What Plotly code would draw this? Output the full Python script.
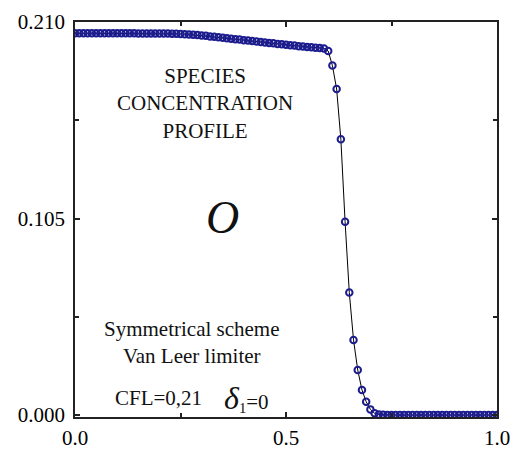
import plotly.graph_objects as go

# Grid positions (cell centres) and species concentration values
x_pos = [i / 100 for i in range(101)]
conc = [
    0.2040, 0.2040, 0.2040, 0.2040, 0.2040, 0.2040, 0.2040, 0.2040, 0.2040, 0.2040,
    0.2040, 0.2040, 0.2040, 0.2040, 0.2040, 0.2039, 0.2039, 0.2039, 0.2039, 0.2039,
    0.2038, 0.2038, 0.2038, 0.2037, 0.2037, 0.2036, 0.2035, 0.2033, 0.2032, 0.2030,
    0.2028, 0.2026, 0.2023, 0.2021, 0.2018, 0.2016, 0.2013, 0.2011, 0.2008, 0.2006,
    0.2003, 0.2001, 0.1998, 0.1996, 0.1993, 0.1991, 0.1988, 0.1986, 0.1983, 0.1981,
    0.1979, 0.1976, 0.1974, 0.1971, 0.1969, 0.1967, 0.1965, 0.1963, 0.1961, 0.1959,
    0.1945, 0.1867, 0.1742, 0.1473, 0.1033, 0.0654, 0.0401, 0.0240, 0.0134, 0.0071,
    0.0030, 0.0009, 0.0003, 0.0001, 0.0, 0.0, 0.0, 0.0, 0.0, 0.0,
    0.0, 0.0, 0.0, 0.0, 0.0, 0.0, 0.0, 0.0, 0.0, 0.0,
    0.0, 0.0, 0.0, 0.0, 0.0, 0.0, 0.0, 0.0, 0.0, 0.0,
    0.0,
]
x_ticks = [0.0, 0.5, 1.0]
x_tick_labels = ["0.0", "0.5", "1.0"]
y_ticks = [0.0, 0.105, 0.210]
y_tick_labels = ["0.000", "0.105", "0.210"]

SERIF = "Liberation Serif, Times New Roman, serif"
BLUE = "#1c1c8f"

fig = go.Figure()
fig.add_trace(go.Scatter(
    x=x_pos, y=conc, mode="lines+markers",
    line=dict(color="black", width=1),
    marker=dict(symbol="circle-open", size=6.5, color=BLUE, line=dict(width=2, color=BLUE)),
    showlegend=False,
))

axis_common = dict(
    showgrid=False, zeroline=False, showline=True, linecolor="#222222", linewidth=1.8,
    mirror="allticks", ticks="inside", ticklen=5, tickwidth=1.5, tickcolor="#222222",
    tickfont=dict(family=SERIF, size=21, color="black"), automargin=False,
)
fig.update_xaxes(range=[0, 1], tickvals=x_ticks, ticktext=x_tick_labels,
                 minor=dict(tickvals=[0.25, 0.75], ticks="inside", ticklen=4, tickcolor="#222222"),
                 ticklabelstandoff=1, **axis_common)
fig.update_yaxes(range=[-0.00107, 0.210], tickvals=y_ticks, ticktext=y_tick_labels,
                 minor=dict(tickvals=[0.0525, 0.1575], ticks="inside", ticklen=4, tickcolor="#222222"),
                 ticklabelstandoff=4, **axis_common)

txt = dict(family=SERIF, size=21, color="#111111")
fig.add_annotation(x=0.309, y=0.1665, text="SPECIES<br>CONCENTRATION<br>PROFILE",
                   showarrow=False, font=txt, align="center")
fig.add_annotation(x=0.349, y=0.1053, text="<i>O</i>", showarrow=False,
                   font=dict(family=SERIF, size=46, color="#111111"))
fig.add_annotation(x=0.278, y=0.039, text="Symmetrical scheme<br>Van Leer limiter",
                   showarrow=False, font=txt, align="center")
fig.add_annotation(x=0.197, y=0.0091, text="CFL=0,21", showarrow=False, font=txt)
fig.add_annotation(x=0.349, y=0.0091, xanchor="left",
                   text="<span style='font-size:32px'><i>δ</i></span><sub>1</sub>=0",
                   showarrow=False, font=txt)

fig.update_layout(
    width=518, height=452, plot_bgcolor="white", paper_bgcolor="white",
    margin=dict(l=74.5, r=21.3, t=22, b=35),
)
fig.write_html("out.html")
